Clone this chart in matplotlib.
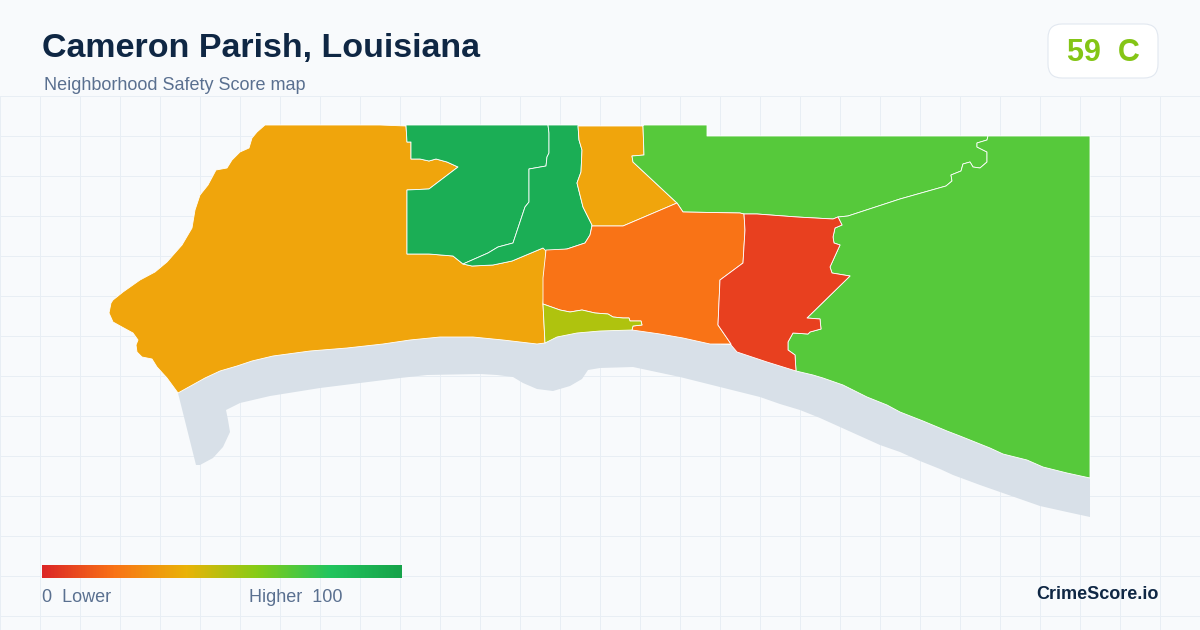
import numpy as np
import matplotlib
matplotlib.use("Agg")
import matplotlib.pyplot as plt
from matplotlib.patches import Polygon, FancyBboxPatch
from matplotlib.colors import LinearSegmentedColormap

plt.rcParams['font.family'] = ['Liberation Sans', 'DejaVu Sans']

TITLE = "Cameron Parish, Louisiana"
SUBTITLE = "Neighborhood Safety Score map"
GRADE = "59  C"
BRAND = "CrimeScore.io"

grid_x = [x + 0.5 for x in range(0, 1201, 40)]
grid_y = [y + 0.5 for y in range(96, 631, 40)]

legend_scores = [0, 20, 40, 60, 80, 100]
legend_colors = ["#dc2626", "#f97316", "#eab308", "#84cc16", "#22c55e", "#16a34a"]

coast_west = [(178, 393), (205, 378), (220, 371), (237, 366), (252, 361), (273, 356), (310, 351), (347, 348),
              (383, 344), (410, 340), (440, 337), (473, 337), (503, 340), (537, 344), (545, 343)]
coast_mid = [(545, 343), (557, 337), (577, 333), (600, 331), (632, 330)]
coast_orange = [(632, 330), (660, 334), (683, 338), (710, 344)]
coast_red = [(731, 345), (737, 352), (767, 362), (796, 371)]
coast_east = [(796, 371), (813, 375), (823, 378), (843, 385), (867, 397), (887, 405), (900, 412), (923, 421),
              (947, 431), (960, 436), (990, 448), (1003, 454), (1027, 460), (1043, 467), (1067, 473), (1090, 478)]

water_lower = [(1090, 517), (1067, 512), (1040, 506), (1020, 499), (1000, 492), (980, 485), (953, 475), (940, 469),
               (920, 461), (900, 452), (880, 445), (860, 436), (840, 427), (820, 418), (800, 410), (780, 404),
               (760, 397), (720, 387), (680, 377), (633, 367), (600, 368), (588, 370), (582, 379), (570, 386),
               (553, 391), (537, 389), (523, 383), (513, 377), (497, 375), (480, 374), (427, 375), (400, 378),
               (360, 383), (320, 388), (270, 396), (240, 403), (226, 410), (228, 420), (230, 432), (223, 447),
               (213, 458), (200, 465), (196, 465)]

west_outline = [(167, 378), (157, 367), (152, 359), (142, 357), (137, 352), (136, 345), (138, 340), (133, 333),
                (122, 327), (113, 322), (109, 313), (111, 303), (113, 300), (123, 292), (140, 280), (155, 272),
                (167, 262), (182, 245), (192, 228), (195, 210), (200, 195), (208, 185), (216, 170), (227, 168),
                (232, 160), (240, 152), (249, 148), (252, 138), (257, 132), (265, 125), (380, 125), (406, 126)]
west_green_edge = [(407, 142), (411, 142), (411, 159), (420, 159), (429, 161), (436, 159), (447, 162), (458, 167),
                   (429, 189), (407, 190), (407, 254), (429, 254), (453, 256), (463, 264)]
green_south_edge = [(463, 264), (472, 266), (493, 265), (512, 261), (543, 248)]
west_east_edge = [(546, 250), (545, 278), (543, 304), (545, 343)]

green_divide = [(548, 126), (549, 133), (549, 153), (547, 157), (546, 166), (529, 169), (529, 202), (525, 207),
                (513, 243), (498, 247), (488, 253), (463, 264)]
green_east_edge = [(578, 126), (579, 140), (582, 150), (581, 172), (577, 183), (583, 207), (592, 225)]
green_se_edge = [(590, 235), (585, 243), (567, 249), (547, 252), (543, 248)]

yellow_edge = [(643, 126), (644, 155), (632, 156), (633, 162), (677, 203)]
yellow_south = [(677, 203), (623, 226), (592, 226)]

north_top = [(644, 125), (707, 125), (707, 136), (988, 136)]
north_lake_edge = [(988, 136), (987, 140), (977, 143), (977, 147), (987, 152), (987, 162), (980, 168), (973, 167),
                   (970, 162), (963, 164), (961, 171), (951, 175), (952, 181), (946, 186), (900, 199), (848, 216),
                   (838, 217)]
red_top = [(838, 217), (833, 219), (797, 217), (757, 214), (744, 214)]
orange_red_edge = [(744, 214), (745, 230), (743, 263), (720, 280), (718, 325), (731, 344)]
red_east_edge = [(838, 217), (842, 225), (835, 228), (833, 237), (834, 243), (840, 245), (830, 267), (832, 273),
                 (850, 276), (807, 318), (820, 319), (821, 329), (810, 332), (808, 334), (793, 333), (788, 342),
                 (788, 350), (795, 355), (796, 371)]
orange_north = [(744, 214), (740, 213), (683, 212), (677, 203)]
olive_top = [(543, 304), (560, 310), (570, 312), (582, 310), (595, 313), (608, 314), (613, 317), (623, 318),
             (629, 318), (630, 321), (641, 321), (642, 325), (633, 326), (632, 330)]

water = coast_west + coast_mid + coast_orange + coast_red + coast_east + water_lower
west = west_outline + west_green_edge + green_south_edge + west_east_edge + coast_west[::-1]
green_a = [(406, 125), (548, 125)] + green_divide[1:] + west_green_edge[::-1]
green_b = [(548, 125), (578, 125)] + green_east_edge[1:] + green_se_edge + green_south_edge[::-1] + green_divide[-2:0:-1]
yellow = [(578, 126), (643, 126)] + yellow_edge[1:] + yellow_south + green_east_edge[::-1]
north = north_top + north_lake_edge + red_top + orange_north + yellow_edge[::-1]
orange = [(546, 250), (567, 249), (585, 243), (590, 235), (592, 226), (623, 226), (677, 203)] + orange_north[::-1] \
    + orange_red_edge + [(710, 344)] + coast_orange[::-1] + olive_top[::-1] + [(543, 278)]
red = red_top[::-1] + red_east_edge[1:] + coast_red[::-1] + orange_red_edge[::-1]
olive = olive_top + coast_mid[::-1]
east = [(988, 136), (1090, 136)] + coast_east[::-1] + red_east_edge[::-1] + north_lake_edge[::-1]

regions = [
    (west, "#f0a50c"), (green_a, "#1bae55"), (green_b, "#1bae55"), (yellow, "#f0a50c"),
    (north, "#56c93b"), (east, "#56c93b"), (orange, "#f97316"), (red, "#e8401f"), (olive, "#afc30e"),
]

fig = plt.figure(figsize=(12, 6.3), dpi=100, facecolor="#f8fafc")
ax = fig.add_axes([0, 0, 1, 1])
ax.set_xlim(0, 1200)
ax.set_ylim(630, 0)
ax.axis("off")

vl = ax.vlines(grid_x, 96, 630, color="#e8eef4", lw=0.72, zorder=1)
hl = ax.hlines(grid_y, 0, 1200, color="#e8eef4", lw=0.72, zorder=1)
vl.set_snap(False)
hl.set_snap(False)

ax.add_patch(Polygon(water, closed=True, fc="#d8e0e8", ec="none", zorder=2))
for shape, color in regions:
    ax.add_patch(Polygon(shape, closed=True, fc=color, ec="#ffffff", lw=0.6, joinstyle="round", zorder=3))

ax.text(42, 49, TITLE, fontsize=24.5, fontweight="bold", color="#0f2744", va="center", ha="left", zorder=5)
ax.text(44, 85.5, SUBTITLE, fontsize=12.95, color="#5a7090", va="center", ha="left", zorder=5)

ax.add_patch(FancyBboxPatch((1060, 36), 86, 30, boxstyle="round,pad=12,rounding_size=14",
                            fc="#ffffff", ec="#e2e8f0", lw=0.8, zorder=4))
ax.text(1103, 53, GRADE, fontsize=22, fontweight="bold", color="#84c516", va="center", ha="center", zorder=5)

stops = [s / 100 for s in legend_scores]
cmap = LinearSegmentedColormap.from_list("score", list(zip(stops, legend_colors)))
ax.imshow(np.linspace(0, 1, 360).reshape(1, -1), cmap=cmap, extent=(42, 402, 578, 565), aspect="auto", zorder=4)
ax.set_xlim(0, 1200)
ax.set_ylim(630, 0)

ax.text(42, 597.5, "0  Lower", fontsize=12.95, color="#5a7090", va="center", ha="left", zorder=5)
ax.text(249, 597.5, "Higher  100", fontsize=12.95, color="#5a7090", va="center", ha="left", zorder=5)
ax.text(1158.5, 594.5, BRAND, fontsize=13, fontweight="bold", color="#0f2744", va="center", ha="right", zorder=5)

fig.savefig("out.png", dpi=100, facecolor=fig.get_facecolor())
